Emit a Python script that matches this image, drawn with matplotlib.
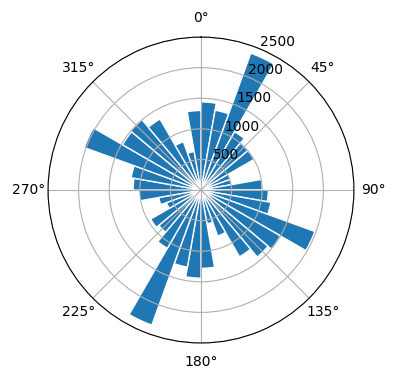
import matplotlib
matplotlib.use("Agg")
import matplotlib.pyplot as plt
import numpy as np

# counts per 10 degree sector, clockwise from north
sector_start = np.arange(0, 360, 10)
counts = [1440, 1325, 2380, 1100, 1000, 1000, 520, 500, 1000,
          1100, 1160, 1980, 1500, 1430, 1260, 800, 560, 1280,
          1440, 1280, 2350, 1100, 900, 950, 600, 700, 1010,
          1110, 1160, 2030, 1480, 1500, 1340, 840, 640, 1300]
r_ticks = [500, 1000, 1500, 2000, 2500]

fig = plt.figure(figsize=(3.96, 3.8), dpi=100)
ax = fig.add_axes([0.1212, 0.0974, 0.7727, 0.805], projection="polar")
ax.set_theta_zero_location("N")
ax.set_theta_direction(-1)

ax.bar(np.deg2rad(sector_start), counts, width=np.deg2rad(10), align="edge",
       color="#1f77b4", edgecolor="white", linewidth=1)

ax.set_ylim(0, 2500)
ax.set_yticks(r_ticks)

fig.savefig("out.png", dpi=100)
